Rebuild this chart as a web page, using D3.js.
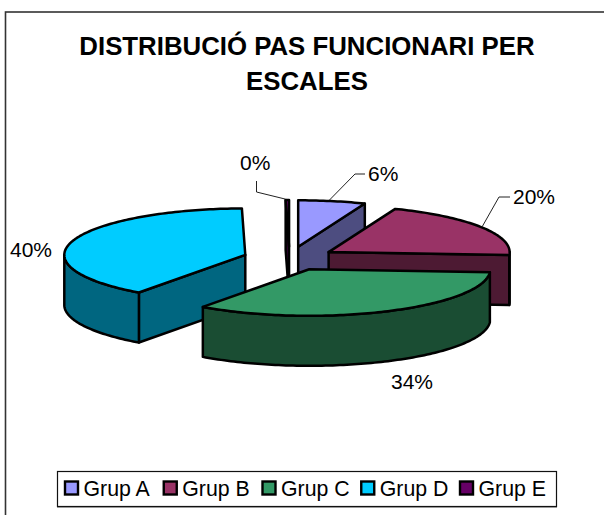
<!DOCTYPE html>
<html>
<head>
<meta charset="utf-8">
<script src="https://cdn.jsdelivr.net/npm/d3@7/dist/d3.min.js"></script>
<style>
html,body{margin:0;padding:0;background:#fff;overflow:hidden}
svg{display:block}
text{font-family:"Liberation Sans",Arial,sans-serif;fill:#000}
</style>
</head>
<body>
<svg id="c" width="604" height="515"></svg>
<script>
const titleLines = ["DISTRIBUCIÓ PAS FUNCIONARI PER", "ESCALES"];
const categories = ["Grup A", "Grup B", "Grup C", "Grup D", "Grup E"];
const values = [6, 20, 34, 39.7, 0.3];
const topColors = ["#9999FF", "#993366", "#339966", "#00CCFF", "#660066"];
const sideColors = ["#4D4D80", "#4D1A33", "#1A4D33", "#006680", "#330033"];
const drawOrder = [4, 0, 1, 3, 2];

const W = 604, H = 515;
const svg = d3.select("#c");
const cx = 289.5, cy = 258.5, rx = 181, ry = 46.5, depth = 50, explode = 0.256;

// frame runs off the right and bottom of the picture
svg.append("rect").attr("x", 5.5).attr("y", 12).attr("width", W + 20).attr("height", H + 20)
  .attr("fill", "#fff").attr("stroke", "#333").attr("stroke-width", 1.6);

// title
const title = svg.append("g");
titleLines.forEach((t, i) => title.append("text")
  .attr("x", 307).attr("y", 55 + i * 35).attr("text-anchor", "middle")
  .attr("font-size", 25.8).attr("font-weight", "bold").text(t));

// pie: angles clockwise from 12 o'clock
const arcs = d3.pie().sort(null).value(d => d)(values);
const sx = d3.scaleLinear().domain([-1, 1]).range([cx - rx, cx + rx]);
const sy = d3.scaleLinear().domain([-1, 1]).range([cy + ry, cy - ry]);
const line = d3.line();

function geom(a) {
  const mid = (a.startAngle + a.endAngle) / 2;
  const ox = explode * Math.sin(mid), oy = explode * Math.cos(mid);
  const pt = (ang, r = 1) => [sx(ox + r * Math.sin(ang)), sy(oy + r * Math.cos(ang))];
  return {pt, apex: pt(0, 0)};
}
function arcPts(g, a0, a1) {
  const n = Math.max(2, Math.ceil((a1 - a0) / 0.02));
  return d3.range(n + 1).map(i => g.pt(a0 + (a1 - a0) * i / n));
}
const down = p => [p[0], p[1] + depth];

const pieG = svg.append("g").attr("stroke", "#000").attr("stroke-width", 2.5).attr("stroke-linejoin", "round");
drawOrder.forEach(i => {
  const a = arcs[i], g = geom(a), a0 = a.startAngle, a1 = a.endAngle;
  const side = sideColors[i];
  const radial = ang => {
    const p = g.pt(ang);
    pieG.append("path").attr("fill", side)
      .attr("d", line([g.apex, p, down(p), down(g.apex)]) + "Z");
  };
  if (Math.sin(a0) < -1e-6) radial(a0);
  if (Math.sin(a1) > 1e-6) radial(a1);
  const w0 = Math.max(a0, Math.PI / 2), w1 = Math.min(a1, Math.PI * 1.5);
  if (w1 > w0) {
    const pts = arcPts(g, w0, w1);
    pieG.append("path").attr("fill", side)
      .attr("d", line(pts.concat(pts.map(down).reverse())) + "Z");
  }
  pieG.append("path").attr("fill", topColors[i])
    .attr("d", line([g.apex].concat(arcPts(g, a0, a1))) + "Z");
});

// data labels
const fmt = v => Math.round(v) + "%";
const labelPlace = [
  {x: 368, y: 181, anchor: "start", lead: [[329.5, 200], [355, 174], [365, 174]]},
  {x: 513, y: 204, anchor: "start", lead: [[482, 227], [499, 197], [510, 197]]},
  {x: 391, y: 389, anchor: "start"},
  {x: 10, y: 257, anchor: "start"},
  {x: 240, y: 170, anchor: "start", lead: [[256.5, 181], [256.5, 192], [285, 199]]}
];
labelPlace.forEach((l, i) => {
  if (l.lead) svg.append("path").attr("fill", "none").attr("stroke", "#222").attr("stroke-width", 1).attr("d", line(l.lead));
  svg.append("text").attr("x", l.x).attr("y", l.y).attr("text-anchor", l.anchor)
    .attr("font-size", 21).text(fmt(values[i]));
});

// legend
svg.append("rect").attr("x", 57.5).attr("y", 471.5).attr("width", 499).attr("height", 35)
  .attr("fill", "#fff").attr("stroke", "#111").attr("stroke-width", 1.2);
svg.append("line").attr("x1", 57).attr("x2", 557).attr("y1", 507.5).attr("y2", 507.5)
  .attr("stroke", "#999").attr("stroke-width", 1);
const lx = d3.scalePoint().domain(categories).range([64, 459]);
categories.forEach((c, i) => {
  const x = lx(c);
  svg.append("rect").attr("x", x + 1).attr("y", 481.5).attr("width", 13).attr("height", 13)
    .attr("fill", topColors[i]).attr("stroke", "#000").attr("stroke-width", 2.4);
  svg.append("text").attr("x", x + 19.5).attr("y", 496).attr("font-size", 21.3).text(c);
});
</script>
</body>
</html>
